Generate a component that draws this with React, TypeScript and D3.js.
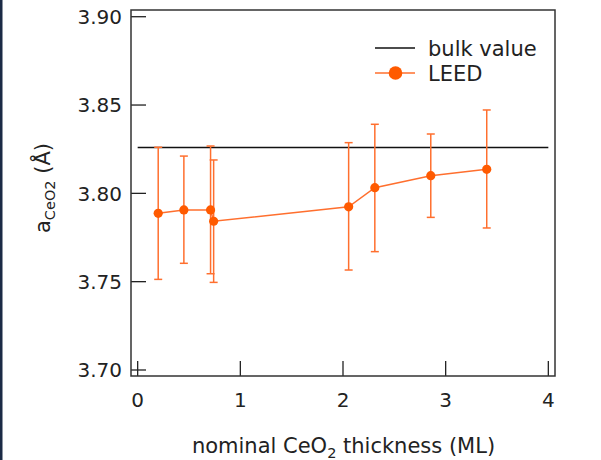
import React from "react";
import * as d3 from "d3";

const thickness = [0.2, 0.45, 0.71, 0.74, 2.055, 2.31, 2.855, 3.4];
const latticeA = [3.7887, 3.7906, 3.7906, 3.7842, 3.7924, 3.8032, 3.81, 3.8136];
const errTop = [3.8261, 3.8211, 3.8268, 3.8189, 3.8287, 3.8391, 3.8336, 3.8472];
const errBottom = [3.7513, 3.7604, 3.7545, 3.7496, 3.7566, 3.767, 3.7864, 3.7804];
const bulkValue = 3.826;
const xTicks = [0, 1, 2, 3, 4];
const yTicks = [3.7, 3.75, 3.8, 3.85, 3.9];
const legendLabels = ["bulk value", "LEED"];

const W = 601;
const H = 460;
const left = 131;
const right = 555;
const top = 10;
const bottom = 376;
const orange = "#ff5a00";
const orangeLine = "#ff6f2e";
const font = "DejaVu Sans, Verdana, sans-serif";

export default function App() {
  const x = d3.scaleLinear().domain([-0.065, 4.065]).range([left, right]);
  const y = d3.scaleLinear().domain([3.6966, 3.9038]).range([bottom, top]);
  const line = d3
    .line<number>()
    .x((_, i) => x(thickness[i]))
    .y((d) => y(d));
  const tickLen = 15;
  return (
    <svg
      width={W}
      height={H}
      style={{ position: "absolute", left: 0, top: 0, background: "#fff" }}
      fontFamily={font}
    >
      <rect x={0} y={0} width={W} height={H} fill="#fff" />
      <rect x={0} y={0} width={2.5} height={H} fill="#1b2a45" />
      {/* ticks */}
      {yTicks.map((t) => (
        <g key={"y" + t}>
          <line x1={left} x2={left + tickLen} y1={y(t)} y2={y(t)} stroke="#222" strokeWidth={1.3} />
          <text x={122} y={y(t)} dy="0.36em" textAnchor="end" fontSize={20} fill="#222">
            {t.toFixed(2)}
          </text>
        </g>
      ))}
      {xTicks.map((t) => (
        <g key={"x" + t}>
          <line x1={x(t)} x2={x(t)} y1={bottom} y2={bottom - tickLen} stroke="#222" strokeWidth={1.3} />
          <text x={x(t)} y={407} textAnchor="middle" fontSize={20} fill="#222">
            {t}
          </text>
        </g>
      ))}
      {/* bulk line */}
      <line x1={x(0)} x2={x(4)} y1={y(bulkValue)} y2={y(bulkValue)} stroke="#111" strokeWidth={1.4} />
      {/* error bars */}
      {thickness.map((t, i) => (
        <g key={"e" + i} stroke={orangeLine} strokeWidth={1.5}>
          <line x1={x(t)} x2={x(t)} y1={y(errTop[i])} y2={y(errBottom[i])} />
          <line x1={x(t) - 4} x2={x(t) + 4} y1={y(errTop[i])} y2={y(errTop[i])} />
          <line x1={x(t) - 4} x2={x(t) + 4} y1={y(errBottom[i])} y2={y(errBottom[i])} />
        </g>
      ))}
      <path d={line(latticeA) || ""} fill="none" stroke={orangeLine} strokeWidth={1.5} />
      {thickness.map((t, i) => (
        <circle key={"c" + i} cx={x(t)} cy={y(latticeA[i])} r={4.6} fill={orange} />
      ))}
      {/* frame */}
      <rect x={left} y={top} width={right - left} height={bottom - top} fill="none" stroke="#333" strokeWidth={1.5} />
      {/* legend */}
      <line x1={375} x2={415} y1={48} y2={48} stroke="#111" strokeWidth={1.4} />
      <text x={428} y={48} dy="0.36em" fontSize={21} fill="#222">
        {legendLabels[0]}
      </text>
      <line x1={375} x2={415} y1={73} y2={73} stroke={orangeLine} strokeWidth={1.5} />
      <circle cx={395.5} cy={73} r={6.8} fill={orange} />
      <text x={428} y={73} dy="0.36em" fontSize={21} fill="#222">
        {legendLabels[1]}
      </text>
      {/* axis titles */}
      <text x={343.5} y={453} textAnchor="middle" fontSize={21} fill="#222">
        nominal CeO
        <tspan fontSize={14.5} dy={5}>2</tspan>
        <tspan dy={-5}> thickness (ML)</tspan>
      </text>
      <text
        transform={`translate(50,188) rotate(-90)`}
        textAnchor="middle"
        fontSize={21}
        fill="#222"
      >
        a
        <tspan fontSize={14.5} dy={5}>CeO2</tspan>
        <tspan dy={-5}> (Å)</tspan>
      </text>
    </svg>
  );
}
